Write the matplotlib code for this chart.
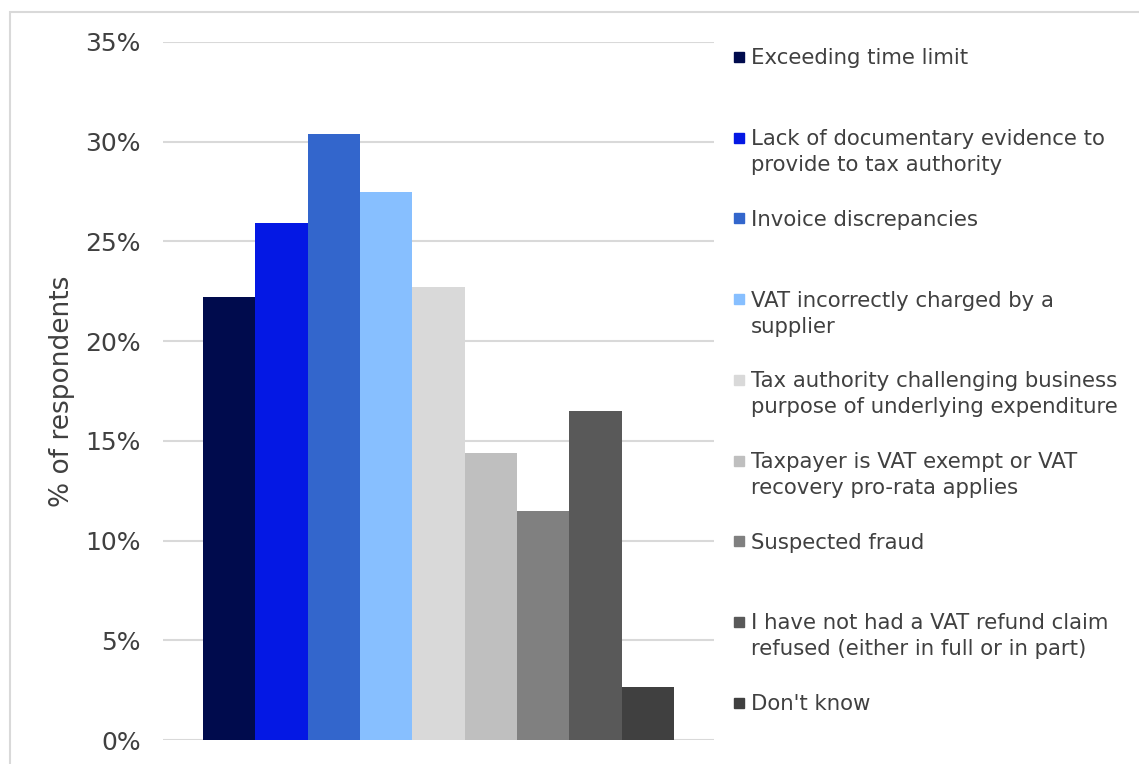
import matplotlib.pyplot as plt
from matplotlib.patches import Rectangle
from matplotlib.ticker import PercentFormatter

labels = [
    "Exceeding time limit",
    "Lack of documentary evidence to\nprovide to tax authority",
    "Invoice discrepancies",
    "VAT incorrectly charged by a\nsupplier",
    "Tax authority challenging business\npurpose of underlying expenditure",
    "Taxpayer is VAT exempt or VAT\nrecovery pro-rata applies",
    "Suspected fraud",
    "I have not had a VAT refund claim\nrefused (either in full or in part)",
    "Don't know",
]
values = [22.2, 25.9, 30.4, 27.5, 22.7, 14.4, 11.5, 16.5, 2.65]
colors = ["#000b4d", "#0418e4", "#3366cc", "#87bfff", "#d9d9d9",
          "#bfbfbf", "#808080", "#595959", "#404040"]
yticks = [0, 5, 10, 15, 20, 25, 30, 35]

W, H = 1139, 764
fig = plt.figure(figsize=(W / 100, H / 100), dpi=100)
ax = fig.add_axes([163 / W, 1 - 740 / H, (714 - 163) / W, (740 - 42) / H])

x = list(range(len(values)))
ax.bar(x, values, width=1.0, color=colors, zorder=2)
ax.set_xlim(-1.264, 9.264)
ax.set_ylim(0, 35)
ax.set_yticks(yticks)
ax.yaxis.set_major_formatter(PercentFormatter(decimals=0))
ax.set_xticks([])
ax.tick_params(axis="y", length=0, pad=16, labelsize=18, labelcolor="#404040")
ax.grid(axis="y", color="#d9d9d9", linewidth=1.5, zorder=0)
for s in ax.spines.values():
    s.set_visible(False)
fig.text(62 / W, 1 - 391 / H, "% of respondents", rotation=90, fontsize=19,
         color="#404040", ha="center", va="center")

# outer chart border (only top/left visible in the crop)
fig.patches.append(Rectangle((10 / W, -0.1), 1.2, 1 - 12 / H + 0.1,
                             transform=fig.transFigure, fill=False,
                             edgecolor="#d9d9d9", linewidth=1.5))

# legend drawn by hand so the marker sits on the first text line
y0, step, line_h = 57, 80.7, 26
for i, (lab, col) in enumerate(zip(labels, colors)):
    yc = y0 + i * step
    fig.patches.append(Rectangle((734 / W, 1 - (yc + 5) / H), 10 / W, 10 / H,
                                 transform=fig.transFigure, color=col))
    nlines = lab.count("\n") + 1
    base = yc + 7.5 + (nlines - 1) * line_h
    fig.text(751 / W, 1 - base / H, lab, fontsize=15.3, color="#404040",
             va="baseline", ha="left", linespacing=1.38)

fig.savefig("out.png", dpi=100, facecolor="white")
